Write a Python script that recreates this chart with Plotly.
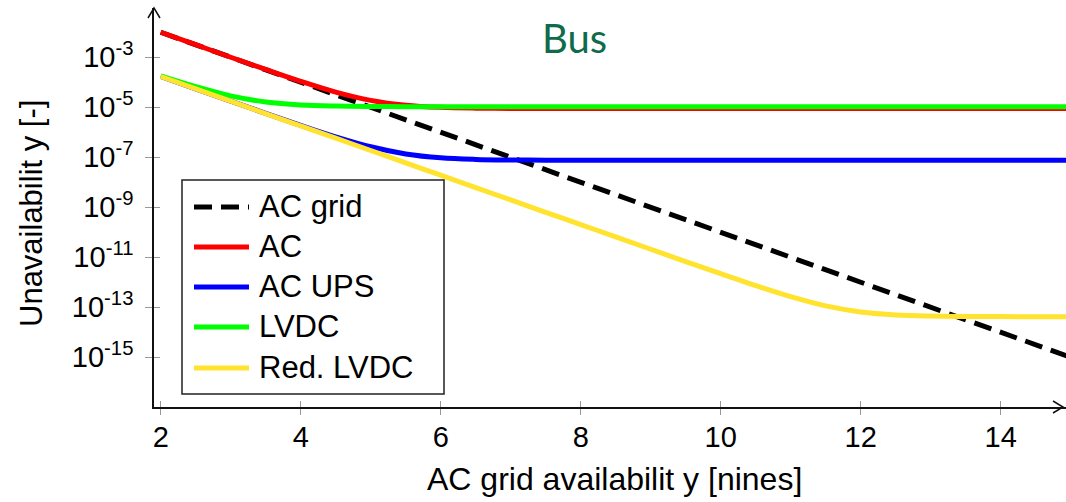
import plotly.graph_objects as go

# ---------------- data ----------------
x_nines = [2, 2.5, 3, 3.5, 4, 4.5, 5, 5.5, 6, 6.5, 7, 7.5, 8, 8.5, 9, 9.5,
           10, 10.5, 11, 11.5, 12, 12.5, 13, 13.5, 14, 14.5, 15]

ac_grid = [1e-2, 3.16e-3, 1e-3, 3.16e-4, 1e-4, 3.16e-5, 1e-5, 3.16e-6, 1e-6,
           3.16e-7, 1e-7, 3.16e-8, 1e-8, 3.16e-9, 1e-9, 3.16e-10, 1e-10,
           3.16e-11, 1e-11, 3.16e-12, 1e-12, 3.16e-13, 1e-13, 3.16e-14, 1e-14,
           3.16e-15, 1e-15]

ac = [1.0e-2, 3.17e-3, 1.0e-3, 3.25e-4, 1.09e-4, 4.05e-5, 1.89e-5, 1.21e-5,
      9.9e-6, 9.2e-6, 9.0e-6, 8.93e-6, 8.9e-6, 8.9e-6, 8.9e-6, 8.9e-6, 8.9e-6,
      8.9e-6, 8.9e-6, 8.9e-6, 8.9e-6, 8.9e-6, 8.9e-6, 8.9e-6, 8.9e-6, 8.9e-6,
      8.9e-6]

ac_ups = [1.70e-4, 5.45e-5, 1.76e-5, 5.7e-6, 1.88e-6, 6.56e-7, 2.62e-7,
          1.36e-7, 9.5e-8, 8.2e-8, 7.8e-8, 7.66e-8, 7.62e-8, 7.6e-8, 7.6e-8,
          7.6e-8, 7.6e-8, 7.6e-8, 7.6e-8, 7.6e-8, 7.6e-8, 7.6e-8, 7.6e-8,
          7.6e-8, 7.6e-8, 7.6e-8, 7.6e-8]

lvdc = [1.80e-4, 6.7e-5, 2.85e-5, 1.62e-5, 1.23e-5, 1.11e-5, 1.07e-5,
        1.055e-5, 1.05e-5, 1.05e-5, 1.05e-5, 1.05e-5, 1.05e-5, 1.05e-5,
        1.05e-5, 1.05e-5, 1.05e-5, 1.05e-5, 1.05e-5, 1.05e-5, 1.05e-5,
        1.05e-5, 1.05e-5, 1.05e-5, 1.05e-5, 1.05e-5, 1.05e-5]

red_lvdc = [1.70e-4, 5.45e-5, 1.75e-5, 5.6e-6, 1.80e-6, 5.8e-7, 1.86e-7,
            5.96e-8, 1.91e-8, 6.1e-9, 1.97e-9, 6.3e-10, 2.03e-10, 6.5e-11,
            2.09e-11, 6.7e-12, 2.20e-12, 7.3e-13, 2.64e-13, 1.13e-13, 6.5e-14,
            4.93e-14, 4.44e-14, 4.28e-14, 4.22e-14, 4.2e-14, 4.2e-14]

series_names = ["AC grid", "AC", "AC UPS", "LVDC", "Red. LVDC"]
series_values = [ac_grid, ac, ac_ups, lvdc, red_lvdc]
series_colors = ["#000000", "#FF0000", "#0000FF", "#00FF00", "#FFE32E"]
series_dash = ["18px,9px", "solid", "solid", "solid", "solid"]

x_ticks = [2, 4, 6, 8, 10, 12, 14]
y_ticks = [1e-3, 1e-5, 1e-7, 1e-9, 1e-11, 1e-13, 1e-15]
y_ticktext = ["10<sup>-3</sup>", "10<sup>-5</sup>", "10<sup>-7</sup>",
              "10<sup>-9</sup>", "10<sup>-11</sup>", "10<sup>-13</sup>",
              "10<sup>-15</sup>"]

chart_title = "Bus"
x_title = "AC grid availabilit y [nines]"
y_title = "Unavailabilit y [-]"

# ---------------- figure ----------------
W, H = 1066, 502
ML, MR, MT, MB = 154, 0, 8, 95
PW, PH = W - ML - MR, H - MT - MB


def px2paper_x(px):
    return (px - ML) / PW


def px2paper_y(py):
    return (H - MB - py) / PH


FONT = "Liberation Sans, Arial, sans-serif"

fig = go.Figure()
for name, vals, col, dash in zip(series_names, series_values, series_colors, series_dash):
    fig.add_trace(go.Scatter(
        x=x_nines, y=vals, name=name, mode="lines",
        line=dict(color=col, width=5, dash=dash,
                  shape="linear" if dash != "solid" else "spline", smoothing=1.0),
        showlegend=False,
    ))

fig.update_layout(
    width=W, height=H,
    margin=dict(l=ML, r=MR, t=MT, b=MB),
    paper_bgcolor="white", plot_bgcolor="white",
    font=dict(family=FONT, color="black"),
    xaxis=dict(
        range=[1.904, 14.933], tickvals=x_ticks,
        ticks="inside", ticklen=6, tickcolor="#999999", tickwidth=1,
        minor=dict(tickvals=x_ticks, ticks="outside", ticklen=6,
                   tickcolor="#999999", tickwidth=1, showgrid=False),
        showline=True, linecolor="#111111", linewidth=1.5,
        showgrid=False, zeroline=False,
        tickfont=dict(size=29, family=FONT, color="black"),
        ticklabelstandoff=3,
    ),
    yaxis=dict(
        type="log", range=[-16.99, -1.03],
        tickvals=y_ticks, ticktext=y_ticktext,
        ticks="inside", ticklen=6, tickcolor="#999999", tickwidth=1,
        minor=dict(tickvals=y_ticks, ticks="outside", ticklen=7,
                   tickcolor="#999999", tickwidth=1, showgrid=False),
        showline=True, linecolor="#111111", linewidth=1.5,
        showgrid=False, zeroline=False,
        tickfont=dict(size=29, family=FONT, color="black"),
        ticklabelstandoff=13,
    ),
)

shapes = []
annotations = []

# axis arrows (chevrons)
shapes.append(dict(type="path", xref="paper", yref="paper",
                   xsizemode="pixel", ysizemode="pixel",
                   xanchor=0, yanchor=1,
                   path="M-6,-10 L0,0 L6,-10",
                   line=dict(color="#111111", width=1.5)))
shapes.append(dict(type="path", xref="paper", yref="paper",
                   xsizemode="pixel", ysizemode="pixel",
                   xanchor=px2paper_x(1063), yanchor=0,
                   path="M-10,-6 L0,0 L-10,6",
                   line=dict(color="#111111", width=1.5)))

# manual legend box
shapes.append(dict(type="rect", xref="paper", yref="paper",
                   x0=px2paper_x(182), x1=px2paper_x(444),
                   y0=px2paper_y(394), y1=px2paper_y(180),
                   line=dict(color="#222222", width=1.5), fillcolor="white",
                   layer="above"))
leg_y = [207, 247, 287, 327, 368]
for name, col, dash, ly in zip(series_names, series_colors, series_dash, leg_y):
    shapes.append(dict(type="line", xref="paper", yref="paper",
                       x0=px2paper_x(194), x1=px2paper_x(249),
                       y0=px2paper_y(ly), y1=px2paper_y(ly),
                       line=dict(color=col, width=5,
                                 dash="18px,9px" if dash != "solid" else "solid"),
                       layer="above"))
    annotations.append(dict(x=px2paper_x(257), y=px2paper_y(ly - 1),
                            xref="paper", yref="paper", text=name,
                            showarrow=False, xanchor="left", yanchor="middle",
                            font=dict(size=31, family=FONT, color="black")))

# title
annotations.append(dict(x=px2paper_x(574), y=px2paper_y(38), xref="paper", yref="paper",
                        text=chart_title, showarrow=False,
                        xanchor="center", yanchor="middle",
                        font=dict(size=40, family="Lato, Open Sans, sans-serif",
                                  color="#0F6B4B")))
# axis titles
annotations.append(dict(x=px2paper_x(614), y=px2paper_y(479), xref="paper", yref="paper",
                        text=x_title, showarrow=False,
                        xanchor="center", yanchor="middle",
                        font=dict(size=32, family=FONT, color="black")))
annotations.append(dict(x=px2paper_x(31), y=px2paper_y(214), xref="paper", yref="paper",
                        text=y_title, showarrow=False, textangle=-90,
                        xanchor="center", yanchor="middle",
                        font=dict(size=31, family=FONT, color="black")))

fig.update_layout(shapes=shapes, annotations=annotations)
fig.write_html("out.html")
